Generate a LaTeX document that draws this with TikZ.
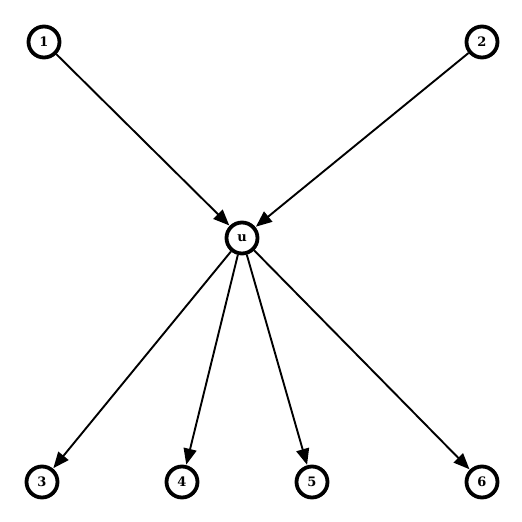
\documentclass[tikz,border=0pt]{standalone}
\usepackage{fontspec}
\setmainfont{DejaVu Serif}
\usetikzlibrary{arrows.meta}
\begin{document}
\begin{tikzpicture}[x=1pt,y=-1pt,
  vtx/.style={circle,draw=black,line width=3.8pt,minimum size=31pt,inner sep=0pt,font=\bfseries\fontsize{13}{15}\selectfont},
  edge/.style={line width=1.9pt,-{Triangle[length=16pt,width=13pt]},shorten >=0.5pt}]
\useasboundingbox (0,0) rectangle (522,522);
\node[vtx] (n1) at (44,42) {1};
\node[vtx] (n2) at (482,42) {2};
\node[vtx] (u) at (242,238) {u};
\node[vtx] (n3) at (42,482) {3};
\node[vtx] (n4) at (182,482) {4};
\node[vtx] (n5) at (312,482) {5};
\node[vtx] (n6) at (482,482) {6};
\draw[edge] (n1) -- (u);
\draw[edge] (n2) -- (u);
\draw[edge] (u) -- (n3);
\draw[edge] (u) -- (n4);
\draw[edge] (u) -- (n5);
\draw[edge] (u) -- (n6);
\end{tikzpicture}
\end{document}
